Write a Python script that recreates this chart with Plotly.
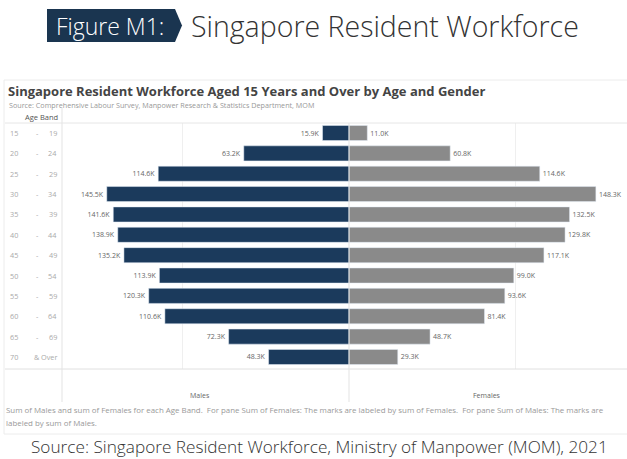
import plotly.graph_objects as go

age_bands = ["15 - 19", "20 - 24", "25 - 29", "30 - 34", "35 - 39", "40 - 44",
             "45 - 49", "50 - 54", "55 - 59", "60 - 64", "65 - 69", "70 & Over"]
males = [15.9, 63.2, 114.6, 145.5, 141.6, 138.9, 135.2, 113.9, 120.3, 110.6, 72.3, 48.3]
females = [11.0, 60.8, 114.6, 148.3, 132.5, 129.8, 117.1, 99.0, 93.6, 81.4, 48.7, 29.3]
male_labels = [f"{v:.1f}K" for v in males]
female_labels = [f"{v:.1f}K" for v in females]

W, H = 627, 459
def px(x): return x / W
def py(y): return 1 - y / H

NAVY = "#1b3a5c"
GRAY_BAR = "#8a8a8a"
FONT = "Open Sans"

fig = go.Figure()
fig.add_trace(go.Bar(y=age_bands, x=males, orientation="h", marker_color=NAVY,
                     text=male_labels, textposition="outside", cliponaxis=False,
                     textfont=dict(size=7, color="#666", family=FONT),
                     width=0.74, xaxis="x", yaxis="y", hoverinfo="skip"))
fig.add_trace(go.Bar(y=age_bands, x=females, orientation="h", marker_color=GRAY_BAR,
                     text=female_labels, textposition="outside", cliponaxis=False,
                     textfont=dict(size=7, color="#666", family=FONT),
                     width=0.74, xaxis="x2", yaxis="y", hoverinfo="skip"))

row_top, row_h = 133, 20.36
y_top = row_top - row_h / 2
y_bot = row_top + 11 * row_h + row_h / 2

fig.update_layout(
    width=W, height=H, margin=dict(l=0, r=0, t=0, b=0),
    paper_bgcolor="white", plot_bgcolor="rgba(0,0,0,0)", showlegend=False,
    xaxis=dict(domain=[px(62), px(349)], range=[172.4, 0], showticklabels=False,
               showgrid=False, zeroline=False, fixedrange=True),
    xaxis2=dict(domain=[px(349), 1], range=[0, 167], showticklabels=False,
                showgrid=False, zeroline=False, fixedrange=True),
    yaxis=dict(domain=[py(y_bot), py(y_top)], range=[11.5, -0.5], type="category",
               categoryorder="array", categoryarray=age_bands,
               showticklabels=False, showgrid=False, zeroline=False, fixedrange=True),
    font=dict(family=FONT),
)

shapes = []
shapes.append(dict(type="rect", xref="paper", yref="paper", x0=px(4), x1=px(640),
                   y0=py(434), y1=py(80), line=dict(color="#ececec", width=1)))
shapes.append(dict(type="line", xref="paper", yref="paper", x0=px(5), x1=1,
                   y0=py(123), y1=py(123), line=dict(color="#e6e6e6", width=1)))
shapes.append(dict(type="line", xref="paper", yref="paper", x0=px(5), x1=1,
                   y0=py(369), y1=py(369), line=dict(color="#e0e0e0", width=1)))
shapes.append(dict(type="line", xref="paper", yref="paper", x0=px(62), x1=px(62),
                   y0=py(402), y1=py(108), line=dict(color="#e3e3e3", width=1)))
shapes.append(dict(type="line", xref="paper", yref="paper", x0=px(349), x1=px(349),
                   y0=py(402), y1=py(123), line=dict(color="#e3e3e3", width=1)))
shapes.append(dict(type="line", xref="x", yref="paper", x0=100, x1=100,
                   y0=py(369), y1=py(123), line=dict(color="#efefef", width=1), layer="below"))
shapes.append(dict(type="line", xref="x2", yref="paper", x0=100, x1=100,
                   y0=py(369), y1=py(123), line=dict(color="#efefef", width=1), layer="below"))
shapes.append(dict(type="path", xref="paper", yref="paper",
                   path=f"M {px(47)},{py(9)} L {px(175)},{py(9)} L {px(182)},{py(25.5)} "
                        f"L {px(175)},{py(42)} L {px(47)},{py(42)} Z",
                   fillcolor="#1a3550", line=dict(width=0)))
fig.update_layout(shapes=shapes)

def note(x, y, text, size, color, xanchor="left", family=FONT, yref="paper", weight=None):
    f = dict(size=size, color=color, family=family)
    if weight:
        f["weight"] = weight
    return dict(x=x, y=y, xref="paper", yref=yref, text=text, showarrow=False,
                xanchor=xanchor, yanchor="middle", font=f)

ann = []
ann.append(note(px(110), py(25.5), "Figure M1:", 23, "white", "center", weight=300))
ann.append(note(px(189), py(25.5), "Singapore Resident Workforce", 28.5, "#333", weight=300))
ann.append(note(px(6), py(91), "<b>Singapore Resident Workforce Aged 15 Years and Over by Age and Gender</b>",
                13, "#444"))
ann.append(note(px(7), py(104.5), "Source: Comprehensive Labour Survey, Manpower Research & Statistics Department, MOM",
                7.2, "#999"))
ann.append(note(px(60), py(117), "Age Band", 7.5, "#555", "right"))
for band in age_bands:
    parts = band.split(" ", 2)
    ann.append(note(px(20), band, parts[0], 7.3, "#aaa", "right", yref="y"))
    ann.append(note(px(37), band, parts[1], 7.3, "#aaa", "center", yref="y"))
    ann.append(note(px(59), band, parts[2], 7.3, "#aaa", "right", yref="y"))
ann.append(note(px(200), py(395), "Males", 7, "#666", "center"))
ann.append(note(px(487), py(395), "Females", 7, "#666", "center"))
ann.append(note(px(4), py(410), "Sum of Males and sum of Females for each Age Band.  For pane Sum of Females: The marks are labeled by sum of Females.  For pane Sum of Males: The marks are",
                7.9, "#999"))
ann.append(note(px(4), py(423), "labeled by sum of Males.", 7.9, "#999"))
ann.append(note(px(319), py(446), "Source: Singapore Resident Workforce, Ministry of Manpower (MOM), 2021",
                17.2, "#333", "center", weight=300))
fig.update_layout(annotations=ann)

fig.write_html("out.html", config={"displayModeBar": False},
               post_script="document.body.style.margin='0';")
